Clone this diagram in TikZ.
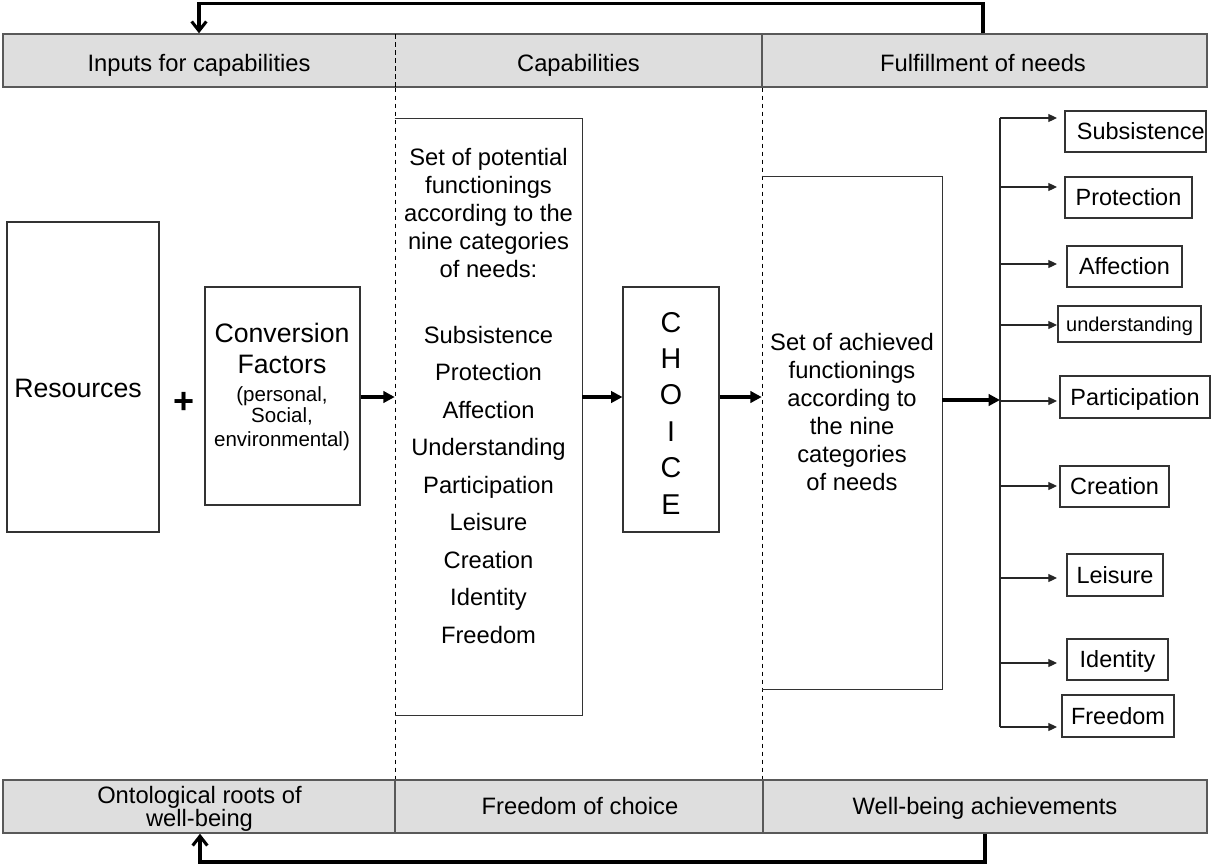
\documentclass[tikz,border=0pt]{standalone}
\usepackage{fontspec}
\setmainfont{Liberation Sans}
\usetikzlibrary{arrows.meta,fit}
\begin{document}
\begin{tikzpicture}[x=0.75pt,y=-0.75pt,
  band/.style={draw=black!65,line width=1.1pt,fill=black!13,inner sep=0pt},
  box/.style={draw=black!80,line width=0.8pt,inner sep=0pt},
  nobox/.style={inner sep=0pt},
  t/.style={font=\fontsize{17.8}{21}\selectfont,anchor=base,inner sep=0pt},
  tbig/.style={font=\fontsize{20}{24}\selectfont,anchor=base,inner sep=0pt},
  tsmall/.style={font=\fontsize{15.4}{18}\selectfont,anchor=base,inner sep=0pt},
  tchoice/.style={font=\fontsize{21.5}{24}\selectfont,anchor=base,inner sep=0pt},
  rt/.style={font=\fontsize{17.6}{21}\selectfont,text height=12.7pt,text depth=0pt,inner sep=0pt,anchor=center},
  rtsmall/.style={font=\fontsize{15}{18}\selectfont,text height=10.8pt,text depth=0pt,inner sep=0pt,anchor=center},
  fb/.style={line width=2.3pt,line join=miter,-{Straight Barb[length=7pt,width=11pt]}},
  bigarrow/.style={line width=2.5pt,-{Triangle[length=8.5pt,width=8.5pt]}},
  smallarrow/.style={line width=0.8pt,draw=black!85,-{Triangle[length=6.5pt,width=6pt]}},
  dashline/.style={line width=0.6pt,dash pattern=on 3.5pt off 2.5pt}
]
\useasboundingbox (0,0) rectangle (1213,865);

% bands
\node[band,fit={(3,34) (1207,87)}] (topband) {};
\node[band,fit={(3,780) (1207,833)}] (botband) {};
\draw[dashline] (395,34) -- (395,87);
\draw[draw=black!65,line width=0.9pt] (762,34) -- (762,87);
\draw[draw=black!65,line width=0.9pt] (395,780) -- (395,833);
\draw[draw=black!65,line width=0.9pt] (763,780) -- (763,833);
\node[t] (h1) at (199,71) {Inputs for capabilities};
\node[t] (h2) at (578.5,71) {Capabilities};
\node[t] (h3) at (983,71) {Fulfillment of needs};
\node[t] (f1a) at (199.5,803) {Ontological roots of};
\node[t] (f1b) at (199.5,826) {well-being};
\node[t] (f2) at (580,814) {Freedom of choice};
\node[t] (f3) at (985,814) {Well-being achievements};

% dashed column separators
\coordinate (d1) at (395,0);
\coordinate (d2) at (762,0);
\draw[dashline] (topband.south -| d1) -- (botband.north -| d1);
\draw[dashline] (topband.south -| d2) -- (botband.north -| d2);

% feedback arrows
\coordinate (fbt1) at (983,3.5);
\coordinate (fbt2) at (199,3.5);
\draw[fb] (topband.north -| fbt1) -- (fbt1) -- (fbt2) -- (topband.north -| fbt2);
\coordinate (fbb1) at (985,862);
\coordinate (fbb2) at (200,862);
\draw[fb] (botband.south -| fbb1) -- (fbb1) -- (fbb2) -- (botband.south -| fbb2);

% Resources
\node[box,fit={(7,222) (159,532)}] (res) {};
\node[tbig] (restxt) at (78,397) {Resources};
\node[font=\fontsize{27}{27}\selectfont\bfseries,inner sep=0pt,anchor=base] (plus) at (184,413) {+};

% Conversion factors
\node[box,fit={(205,287) (360,505)}] (conv) {};
\node[tbig] (c1) at (282,342) {Conversion};
\node[tbig] (c2) at (282,373) {Factors};
\node[tsmall] (c3) at (282,401) {(personal,};
\node[tsmall] (c4) at (282,422) {Social,};
\node[tsmall] (c5) at (282,446) {environmental)};

% potential functionings
\node[nobox,fit={(395,119) (582,715)}] (pot) {};
\draw[box] (pot.north west) -- (pot.north east) -- (pot.south east) -- (pot.south west);
\node[t] (p1) at (488.5,165) {Set of potential};
\node[t] (p2) at (488.5,193) {functionings};
\node[t] (p3) at (488.5,221) {according to the};
\node[t] (p4) at (488.5,249) {nine categories};
\node[t] (p5) at (488.5,277) {of needs:};
\foreach \w [count=\i from 0] in {Subsistence,Protection,Affection,Understanding,Participation,Leisure,Creation,Identity,Freedom}
  \node[t] (pl\i) at (488.5,343+37.5*\i) {\w};

% choice
\node[box,fit={(623,287) (719,532)}] (choice) {};
\foreach \l [count=\i from 0] in {C,H,O,I,C,E}
  \node[tchoice] (ch\i) at (671,332+36.4*\i) {\l};

% achieved functionings
\node[nobox,fit={(762,177) (942,689)}] (ach) {};
\draw[box] (ach.north west) -- (ach.north east) -- (ach.south east) -- (ach.south west);
\node[t] (a1) at (852,350) {Set of achieved};
\node[t] (a2) at (852,378) {functionings};
\node[t] (a3) at (852,406) {according to};
\node[t] (a4) at (852,434) {the nine};
\node[t] (a5) at (852,462) {categories};
\node[t] (a6) at (852,490) {of needs};

% main arrows
\coordinate (ay) at (0,397);
\coordinate (ay2) at (0,400);
\draw[bigarrow] (conv.east |- ay) -- (pot.west |- ay);
\draw[bigarrow] (pot.east |- ay) -- (choice.west |- ay);
\draw[bigarrow] (choice.east |- ay) -- (ach.west |- ay);
\coordinate (vt) at (1000,118);
\coordinate (vb) at (1000,727);
\draw[bigarrow] (ach.east |- ay2) -- (vt |- ay2);
\draw[line width=0.8pt,draw=black!85] (vt) -- (vb);

% right boxes
\node[box,fit={(1065,111) (1206,152)}] (r1) {};
\node[rt] (r1t) at ([xshift=4pt]r1.center) {Subsistence};
\node[box,fit={(1065,177) (1192,218)}] (r2) {};
\node[rt] (r2t) at (r2.center) {Protection};
\node[box,fit={(1067,246) (1182,287)}] (r3) {};
\node[rt] (r3t) at (r3.center) {Affection};
\node[box,fit={(1058,306) (1201,342)}] (r4) {};
\node[rtsmall] (r4t) at (r4.center) {understanding};
\node[box,fit={(1060,376) (1210,418)}] (r5) {};
\node[rt] (r5t) at (r5.center) {Participation};
\node[box,fit={(1060,466) (1169,507)}] (r6) {};
\node[rt] (r6t) at (r6.center) {Creation};
\node[box,fit={(1067,554) (1163,596)}] (r7) {};
\node[rt] (r7t) at (r7.center) {Leisure};
\node[box,fit={(1067,639) (1168,680)}] (r8) {};
\node[rt] (r8t) at (r8.center) {Identity};
\node[box,fit={(1062,695) (1174,737)}] (r9) {};
\node[rt] (r9t) at (r9.center) {Freedom};

% branch arrows
\foreach \y [count=\i] in {118,187,264,325,401,486,578,663,727} {
  \coordinate (bs\i) at (1000,\y);
  \coordinate (be\i) at (1057,\y);
  \draw[smallarrow] (bs\i) -- (be\i);
}
\end{tikzpicture}
\end{document}
